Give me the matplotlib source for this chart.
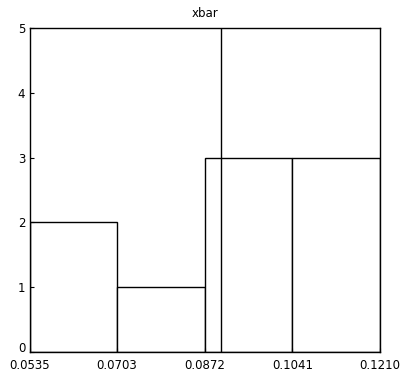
import matplotlib
matplotlib.use("Agg")
import matplotlib.pyplot as plt
import matplotlib.transforms as mtransforms

bin_edges = [0.0535, 0.0703, 0.0872, 0.1041, 0.1210]
counts = [2, 1, 3, 3]
mean_line = 0.0903
title = "xbar"
yticks = [0, 1, 2, 3, 4, 5]
xtick_labels = ["0.0535", "0.0703", "0.0872", "0.1041", "0.1210"]

fig = plt.figure(figsize=(4.0, 3.78), dpi=100)
ax = fig.add_axes([30/400, 1 - 352/378, 350/400, 324/378])

widths = [bin_edges[i+1] - bin_edges[i] for i in range(len(counts))]
ax.bar(bin_edges[:-1], counts, width=widths, align='edge',
       color='white', edgecolor='black', linewidth=1.0)
ax.plot([mean_line, mean_line], [0, 5], color='black', linewidth=1.0)

ax.set_xlim(bin_edges[0], bin_edges[-1])
ax.set_ylim(0, 5)
ax.set_xticks(bin_edges)
ax.set_xticklabels(xtick_labels)
ax.set_yticks(yticks)
ax.tick_params(direction='in', length=3, labelsize=8.5, width=0.8)
ax.tick_params(axis='x', pad=5)
ax.set_title(title, fontsize=8.5, pad=8)
for s in ax.spines.values():
    s.set_linewidth(1.0)

fig.canvas.draw()
ylabels = ax.get_yticklabels()
ylabels[0].set_transform(ylabels[0].get_transform() +
                         mtransforms.ScaledTranslation(0, 5/100, fig.dpi_scale_trans))

fig.savefig("out.png", dpi=100)
